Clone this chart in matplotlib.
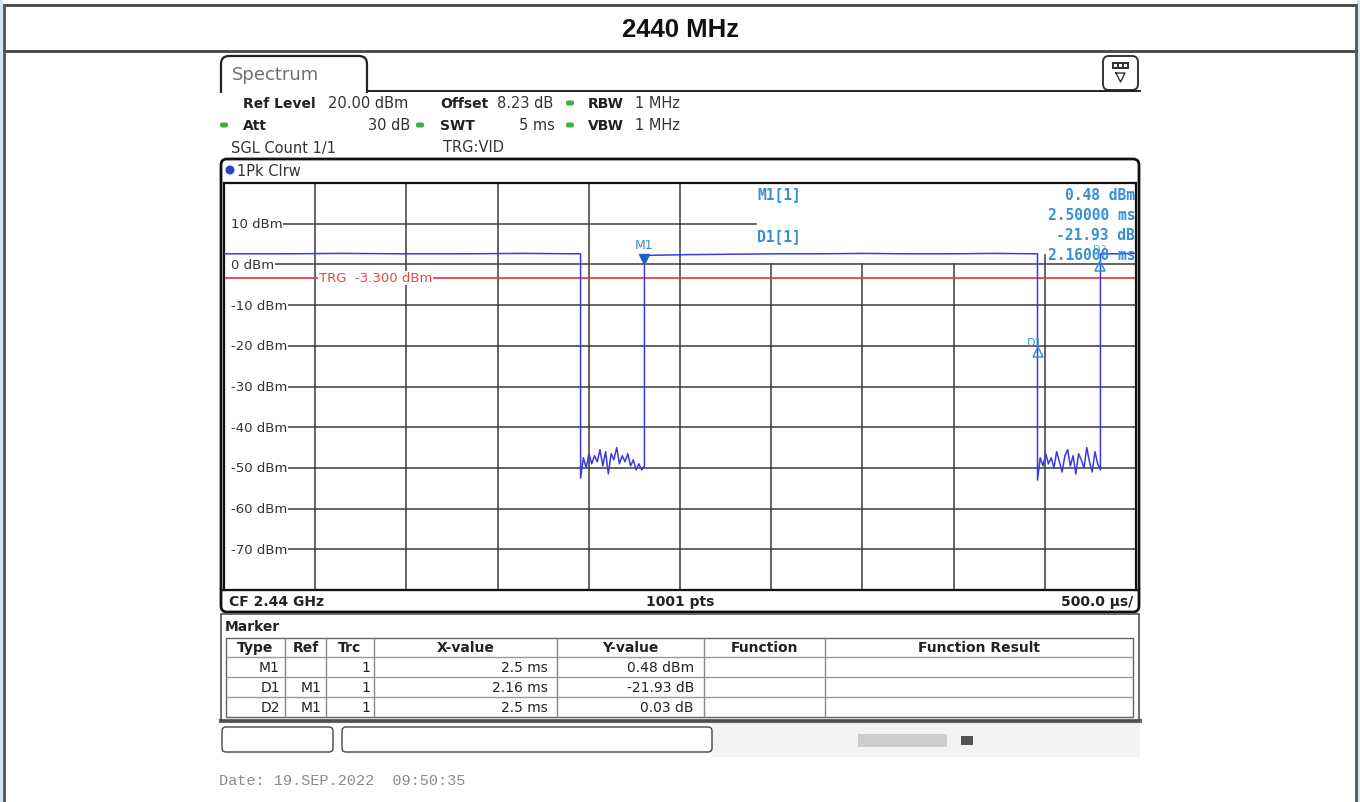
import numpy as np
import matplotlib.pyplot as plt
from matplotlib.patches import FancyBboxPatch, Rectangle, Circle
from matplotlib import transforms

# zero-span sweep settings
t_start = 0.195        # ms, first grid column (trigger offset)
t_div = 0.5            # ms per division
n_div = 10
ref_level = 20.0       # dBm
y_bottom = -80.0
trg_level = -3.3
db_ticks = [10, 0, -10, -20, -30, -40, -50, -60, -70]

# burst edges (ms)
t_fall1, t_rise1 = 2.15, 2.50
t_fall2, t_rise2 = 4.655, 5.00

# trace levels (dBm), burst on / off
on_a = [2.6, 2.6, 2.7, 2.6, 2.6, 2.7, 2.6]
off_a = [-52.5, -47.5, -50.0, -46.5, -49.0, -47.0, -48.5, -45.5, -49.5, -46.0, -51.5,
         -46.5, -48.0, -45.0, -49.0, -47.0, -48.5, -46.5, -49.5, -48.0, -50.5, -49.0,
         -50.5, -49.5]
on_b = [2.2, 2.4, 2.5, 2.6, 2.6, 2.7, 2.6, 2.6, 2.7, 2.6]
off_b = [-53.0, -47.5, -49.5, -46.5, -49.0, -47.5, -50.0, -46.0, -48.5, -51.0, -47.0,
         -45.5, -49.5, -47.0, -51.5, -46.5, -48.0, -50.0, -45.0, -48.5, -51.0, -46.0,
         -49.0, -50.5]
on_c = [2.6, 2.6, 2.7]

# marker table
mk_type = ['M1', 'D1', 'D2']
mk_ref = ['', 'M1', 'M1']
mk_trc = [1, 1, 1]
mk_x = [2.5, 2.16, 2.5]          # ms
mk_y = [0.48, -21.93, 0.03]      # dBm for M1, dB relative for deltas
mk_unit = ['dBm', 'dB', 'dB']

W, H = 1360, 803
fig = plt.figure(figsize=(W / 100, H / 100), dpi=100)
fig.patch.set_facecolor('white')

ov = fig.add_axes([0, 0, 1, 1], zorder=0)
ov.set_xlim(0, W)
ov.set_ylim(H, 0)
ov.axis('off')

ink = '#333333'
blue_txt = '#3590d4'
trace_c = '#3b3be0'
green = '#3cb043'

# page table
ov.add_patch(Rectangle((0, 0), 3, H, color='#d5e6f0', lw=0))
ov.add_patch(Rectangle((1357, 0), 3, H, color='#d5e6f0', lw=0))
for yy in (6, 52):
    ov.plot([4, 1356], [yy, yy], color='#444444', lw=2)
for xx in (4, 1356):
    ov.plot([xx, xx], [6, H], color='#555555', lw=2)
ov.text(680, 30, '2440 MHz', ha='center', va='center', fontsize=18.5,
        fontweight='bold', family=['Liberation Sans', 'DejaVu Sans'], color='#111111')

# instrument tab and header
ov.add_patch(FancyBboxPatch((221, 57), 146, 60, boxstyle='round,pad=0,rounding_size=8',
                            fc='white', ec='#222222', lw=1.6))
ov.plot([367, 1140], [92, 92], color='#222222', lw=1.4)
ov.add_patch(Rectangle((218, 94), 922, 30, fc='white', ec='none'))
ov.text(232, 75, 'Spectrum', fontsize=13, color='#707070', va='center')
ov.add_patch(FancyBboxPatch((1103, 57), 35, 34, boxstyle='round,pad=0,rounding_size=6',
                            fc='white', ec='#333333', lw=1.4))
ov.add_patch(Rectangle((1112, 63), 17, 7, fc='#333333', ec='none'))
for sx in (1114, 1119, 1124):
    ov.add_patch(Rectangle((sx, 65), 3, 3, fc='white', ec='none'))
ov.plot([1116, 1120.5, 1125, 1116], [74, 83, 74, 74], color='#333333', lw=1)

hdr = dict(fontsize=10, va='center', color='#222222')
val = dict(fontsize=10.5, va='center', color='#333333')
ov.text(243, 104, 'Ref Level', fontweight='bold', **hdr)
ov.text(328, 104, '20.00 dBm', **val)
ov.text(440, 104, 'Offset', fontweight='bold', **hdr)
ov.text(497, 104, '8.23 dB', **val)
ov.text(588, 104, 'RBW', fontweight='bold', **hdr)
ov.text(635, 104, '1 MHz', **val)
ov.text(243, 126, 'Att', fontweight='bold', **hdr)
ov.text(410, 126, '30 dB', ha='right', **val)
ov.text(440, 126, 'SWT', fontweight='bold', **hdr)
ov.text(555, 126, '5 ms', ha='right', **val)
ov.text(588, 126, 'VBW', fontweight='bold', **hdr)
ov.text(635, 126, '1 MHz', **val)
ov.text(231, 148, 'SGL Count 1/1', **val)
ov.text(443, 148, 'TRG:VID', **val)
for gx, gy in [(570, 104), (224, 126), (420, 126), (570, 126)]:
    ov.add_patch(FancyBboxPatch((gx - 4, gy - 2.5), 8, 5, boxstyle='round,pad=0,rounding_size=2',
                                fc=green, ec='none'))

# graph frame
ov.add_patch(FancyBboxPatch((221, 160), 918, 453, boxstyle='round,pad=0,rounding_size=6',
                            fc='white', ec='#111111', lw=2))
ov.add_patch(Circle((230, 171), 4.5, fc='#2a3fd0', ec='none'))
ov.text(237, 171, '1Pk Clrw', **val)
ov.plot([222, 1138], [591, 591], color='#111111', lw=1.5)
ov.text(229, 602, 'CF 2.44 GHz', fontweight='bold', **hdr)
ov.text(680, 602, '1001 pts', fontweight='bold', ha='center', **hdr)
ov.text(1133, 602, '500.0 \u00b5s/', fontweight='bold', ha='right', **hdr)

# marker table panel
ov.add_patch(Rectangle((221, 615), 918, 107, fc='white', ec='#555555', lw=1.2))
ov.plot([221, 1140], [722, 722], color='#444444', lw=3, alpha=0.8)
narrow = ['Liberation Sans Narrow', 'DejaVu Sans']
tb = dict(fontsize=10, va='center', family=narrow, color='#222222')
ov.text(225, 627, 'Marker', fontweight='bold', **tb)
cols = [226, 285, 326, 374, 557, 704, 825, 1133]
ov.add_patch(Rectangle((226, 639), 907, 79, fc='none', ec='#666666', lw=1))
for cx in cols[1:-1]:
    ov.plot([cx, cx], [639, 718], color='#888888', lw=1)
for ry in (658, 678, 698):
    ov.plot([226, 1133], [ry, ry], color='#999999', lw=1)
heads = ['Type', 'Ref', 'Trc', 'X-value', 'Y-value', 'Function', 'Function Result']
for i, h in enumerate(heads):
    ov.text((cols[i] + cols[i + 1]) / 2, 648.5, h, ha='center', fontweight='bold', **tb)
for r in range(3):
    ry = 668 + 20 * r
    ov.text(280, ry, mk_type[r], ha='right', **tb)
    ov.text(321, ry, mk_ref[r], ha='right', **tb)
    ov.text(370, ry, str(mk_trc[r]), ha='right', **tb)
    ov.text(548, ry, f'{mk_x[r]:g} ms', ha='right', **tb)
    ov.text(694, ry, f'{mk_y[r]:.2f} {mk_unit[r]}', ha='right', **tb)

# softkey boxes and status strip
ov.add_patch(Rectangle((712, 724), 428, 34, fc='#f3f3f3', ec='none'))
ov.add_patch(FancyBboxPatch((222, 728), 111, 25, boxstyle='round,pad=0,rounding_size=4',
                            fc='white', ec='#444444', lw=1))
ov.add_patch(FancyBboxPatch((342, 728), 370, 25, boxstyle='round,pad=0,rounding_size=4',
                            fc='white', ec='#444444', lw=1))
ov.add_patch(Rectangle((858, 735), 89, 13, fc='#cdcdcd', ec='none'))
ov.add_patch(Rectangle((961, 737), 12, 9, fc='#555555', ec='none'))
ov.text(219, 781, 'Date: 19.SEP.2022  09:50:35', fontsize=11, va='center',
        family=['Liberation Mono', 'DejaVu Sans Mono'], color='#8a8a8a')

# measurement grid
ax = fig.add_axes([224 / W, 1 - 591 / H, 912 / W, 407 / H], zorder=2)
ax.set_facecolor('none')
t_end = t_start + n_div * t_div
ax.set_xlim(t_start, t_end)
ax.set_ylim(y_bottom, ref_level)
ax.set_xticks([])
ax.set_yticks([])
for s in ax.spines.values():
    s.set_color('#111111')
    s.set_linewidth(1.6)

grid_c = '#3a3a3a'
for k in range(1, n_div):
    gx = t_start + k * t_div
    top = ref_level if k <= 5 else (0.0 if k <= 8 else 2.2)
    ax.plot([gx, gx], [y_bottom, top], color=grid_c, lw=1.1, zorder=1)
for v in db_ticks:
    x_end = t_start + 2.914 if v == 10 else t_end
    ax.plot([t_start, x_end], [v, v], color=grid_c, lw=1.1, zorder=1)
    ax.text(t_start + 0.038, v, f'{v} dBm', va='center', ha='left', fontsize=9.5,
            color=ink, zorder=3,
            bbox=dict(fc='white', ec='none', pad=0.6))
# blank margin between frame and level labels
ax.axvspan(t_start, t_start + 0.038, color='white', zorder=1.5)

# trigger level
ax.axhline(trg_level, color='#e5473f', lw=1.3, zorder=2)
ax.text(t_start + 0.52, trg_level, f'TRG  {trg_level:.3f} dBm', va='center', ha='left',
        fontsize=9.5, color='#e5473f', zorder=3, bbox=dict(fc='white', ec='none', pad=0.5))

# trace
segs = [(t_start, t_fall1, on_a), (t_fall1, t_rise1, off_a), (t_rise1, t_fall2, on_b),
        (t_fall2, t_rise2, off_b), (t_rise2, t_end, on_c)]
tt, vv = [], []
for a, b, vals in segs:
    tt.extend(np.linspace(a, b, len(vals)))
    vv.extend(vals)
ax.plot(tt, vv, color=trace_c, lw=1.1, zorder=4)

# markers
m1_t, m1_v = mk_x[0], mk_y[0]
d1_t, d1_v = m1_t + mk_x[1], m1_v + mk_y[1]
d2_t, d2_v = m1_t + mk_x[2], m1_v + mk_y[2]
up = transforms.offset_copy(ax.transData, fig=fig, x=0, y=3, units='dots')
ax.plot([m1_t], [m1_v], marker='v', ms=7, color='#1f5fc0', transform=up, zorder=5)
ax.text(m1_t, m1_v + 4.5, 'M1', ha='center', va='center', fontsize=9,
        color=blue_txt, zorder=5)
ax.plot([d1_t], [d1_v], marker='^', ms=7, mfc='none', mec=blue_txt, mew=1.1, zorder=5)
ax.text(d1_t - 0.02, d1_v + 2.5, 'D1', ha='center', va='center', fontsize=8,
        color=blue_txt, zorder=5)
ax.plot([d2_t], [d2_v - 1.0], marker='^', ms=7, mfc='none', mec=blue_txt, mew=1.1, zorder=5)
ax.text(d2_t, d2_v + 3.3, 'D2', ha='center', va='center', fontsize=7,
        color=blue_txt, alpha=0.8, zorder=5)

# marker readout
mono = dict(fontsize=10.5, fontweight='bold', family='DejaVu Sans Mono', color=blue_txt,
            va='center', transform=ov.transData, zorder=6)
ax.text(757, 195, 'M1[1]', **mono)
ax.text(757, 237, 'D1[1]', **mono)
ax.text(1135, 195, f'{m1_v:.2f} dBm', ha='right', **mono)
ax.text(1135, 215, f'{m1_t:.5f} ms', ha='right', **mono)
ax.text(1135, 236, f'{mk_y[1]:.2f} dB', ha='right', **mono)
ax.text(1135, 256, f'{mk_x[1]:.5f} ms', ha='right', **mono)

fig.savefig('out.png', dpi=100, facecolor='white')
